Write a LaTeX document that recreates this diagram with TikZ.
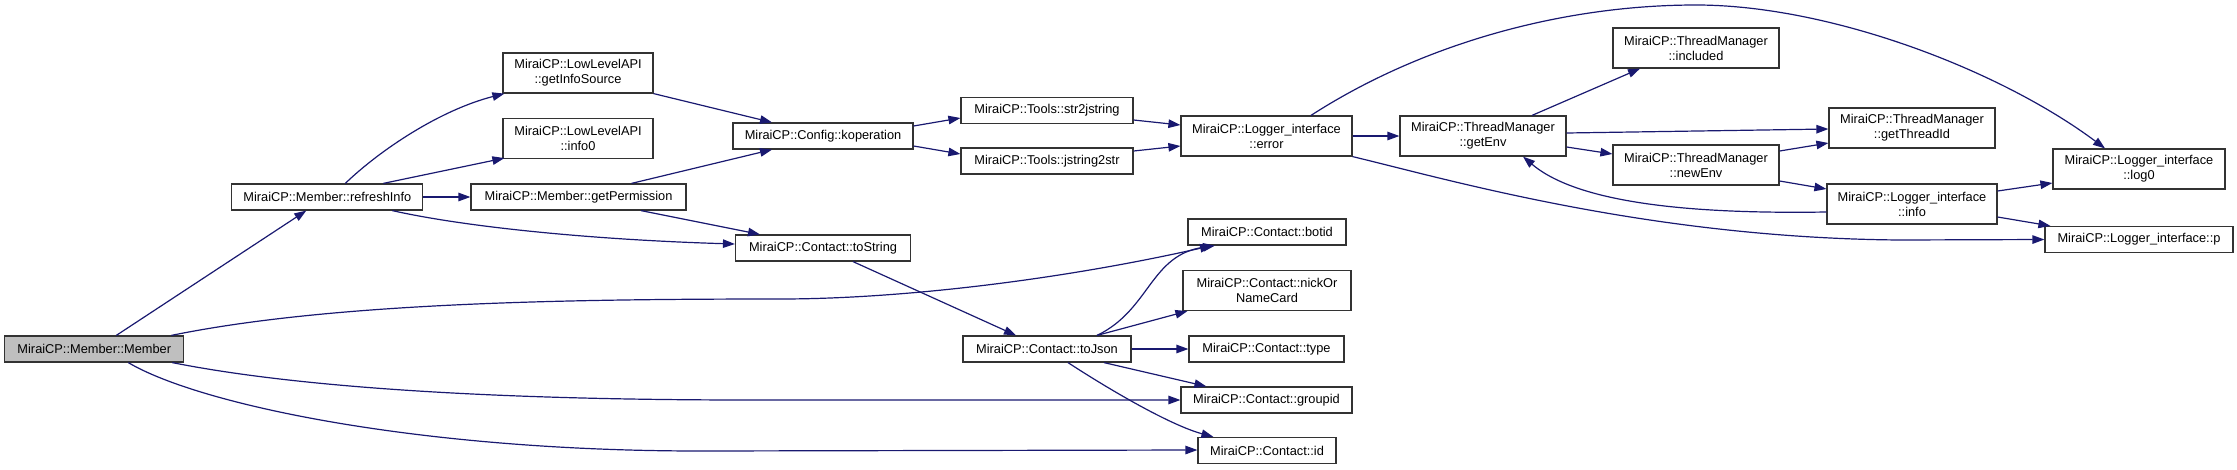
\documentclass[tikz,border=0pt]{standalone}
\usepackage{fontspec}
\setmainfont{Liberation Sans}
\usetikzlibrary{arrows.meta}
\definecolor{edgec}{HTML}{191970}
\definecolor{rootfill}{HTML}{BFBFBF}
\tikzset{
  fn/.style={draw=black!80, line width=1.2pt, fill=white, inner sep=0pt, align=center,
    font=\fontsize{12.8}{15}\selectfont, minimum height=26pt},
  fn2/.style={fn, minimum height=40pt},
  call/.style={draw=edgec, line width=1.2pt, -{Triangle[length=12pt,width=8.5pt]}},
}
\begin{document}
\begin{tikzpicture}[x=1pt,y=-1pt]
\useasboundingbox (0,0) rectangle (2237,469);
% nodes
\node[fn, fill=rootfill, minimum width=179pt] (member) at (94.3,349) {MiraiCP::Member::Member};
\node[fn, minimum width=191pt] (refresh) at (327.3,197) {MiraiCP::Member::refreshInfo};
\node[fn2, minimum width=150pt] (getinfo) at (578,73) {MiraiCP::LowLevelAPI\\::getInfoSource};
\node[fn2, minimum width=150pt] (info0) at (578,138.5) {MiraiCP::LowLevelAPI\\::info0};
\node[fn, minimum width=215pt] (getperm) at (578.5,197) {MiraiCP::Member::getPermission};
\node[fn, minimum width=180pt] (kop) at (823,136) {MiraiCP::Config::koperation};
\node[fn, minimum width=175pt] (tostr) at (823,248) {MiraiCP::Contact::toString};
\node[fn, minimum width=172pt] (str2) at (1047,110.5) {MiraiCP::Tools::str2jstring};
\node[fn, minimum width=172pt] (jstr) at (1047,161) {MiraiCP::Tools::jstring2str};
\node[fn, minimum width=168pt] (tojson) at (1047,349) {MiraiCP::Contact::toJson};
\node[fn2, minimum width=171pt] (error) at (1266.5,136) {MiraiCP::Logger\_interface\\::error};
\node[fn, minimum width=158pt] (botid) at (1267,232) {MiraiCP::Contact::botid};
\node[fn2, minimum width=168pt] (nick) at (1267,290.5) {MiraiCP::Contact::nickOr\\NameCard};
\node[fn, minimum width=155pt] (type) at (1266.5,349) {MiraiCP::Contact::type};
\node[fn, minimum width=171pt] (groupid) at (1266.5,400) {MiraiCP::Contact::groupid};
\node[fn, minimum width=138pt] (id) at (1267,450.5) {MiraiCP::Contact::id};
\node[fn2, minimum width=166pt] (getenv) at (1483,136) {MiraiCP::ThreadManager\\::getEnv};
\node[fn2, minimum width=166pt] (included) at (1696,48) {MiraiCP::ThreadManager\\::included};
\node[fn2, minimum width=166pt] (getthread) at (1912,128) {MiraiCP::ThreadManager\\::getThreadId};
\node[fn2, minimum width=166pt] (newenv) at (1696,165) {MiraiCP::ThreadManager\\::newEnv};
\node[fn2, minimum width=170pt] (info) at (1912,204) {MiraiCP::Logger\_interface\\::info};
\node[fn2, minimum width=172pt] (log0) at (2139,169) {MiraiCP::Logger\_interface\\::log0};
\node[fn, minimum width=188pt] (p) at (2139,239.5) {MiraiCP::Logger\_interface::p};
% edges from Member
\draw[call] ([xshift=22pt]member.north) -- ([xshift=-21pt]refresh.south);
\draw[call] ([xshift=77pt]member.north) .. controls (330,303) and (560,299) .. (780,299)
   .. controls (900,299) and (1060,280) .. ([xshift=-55pt]botid.south);
\draw[call] ([xshift=78pt]member.south) .. controls (300,388) and (500,400) .. (750,400) -- (groupid.west);
\draw[call] ([xshift=34pt]member.south) .. controls (200,405) and (420,451) .. (700,451) -- ([yshift=0.5pt]id.west);
% refreshInfo
\draw[call] ([xshift=18pt]refresh.north) .. controls (380,150) and (440,110) .. ([xshift=2pt]getinfo.south west);
\draw[call] ([xshift=56pt]refresh.north) -- ([xshift=2pt,yshift=1pt]info0.south west);
\draw[call] (refresh.east) -- (getperm.west);
\draw[call] ([xshift=65pt]refresh.south) .. controls (470,228) and (600,240) .. ([yshift=4pt]tostr.west);
% getInfoSource / getPermission
\draw[call] (getinfo.south east) -- ([xshift=-51pt]kop.north);
\draw[call] ([xshift=53pt]getperm.north) -- ([xshift=-51pt]kop.south);
\draw[call] ([xshift=62.5pt]getperm.south) -- ([xshift=-63pt]tostr.north);
% koperation
\draw[call] ([yshift=10pt]kop.east) -- ([yshift=-7.5pt]str2.west);
\draw[call] ([yshift=-10pt]kop.east) -- ([yshift=7pt]jstr.west);
\draw[call] ([yshift=-9.5pt]str2.east) -- ([yshift=11pt]error.west);
\draw[call] ([yshift=10pt]jstr.east) -- ([yshift=-10pt]error.west);
% error
\draw[call] (error.east) -- (getenv.west);
\draw[call] ([xshift=44.5pt]error.north) .. controls (1420,45) and (1560,5) .. (1696,5)
   .. controls (1830,5) and (2000,70) .. ([xshift=-34pt]log0.north);
\draw[call] (error.south east) .. controls (1450,180) and (1650,238) .. (1900,240) -- (p.west);
% getEnv
\draw[call] ([xshift=49pt]getenv.north) -- ([xshift=-56pt]included.south);
\draw[call] ([yshift=3pt]getenv.east) -- ([yshift=-1pt]getthread.west);
\draw[call] ([yshift=-11pt]getenv.east) -- ([yshift=11pt]newenv.west);
% newEnv
\draw[call] ([yshift=14pt]newenv.east) -- ([yshift=-15pt]getthread.west);
\draw[call] ([yshift=-16pt]newenv.east) -- ([yshift=15pt]info.west);
% info
\draw[call] ([yshift=-8pt]info.west) .. controls (1700,214) and (1580,205) .. ([xshift=40pt]getenv.south);
\draw[call] ([yshift=13pt]info.east) -- ([yshift=-14pt]log0.west);
\draw[call] ([yshift=-13pt]info.east) -- ([xshift=6pt]p.north west);
% toString / toJson
\draw[call] ([xshift=30pt]tostr.south) -- ([xshift=-31pt]tojson.north);
\draw[call] ([xshift=50pt]tojson.north) .. controls (1150,310) and (1150,255) .. ([xshift=-52pt]botid.south);
\draw[call] ([xshift=50pt]tojson.north) -- ([xshift=5pt]nick.south west);
\draw[call] (tojson.east) -- (type.west);
\draw[call] ([xshift=57pt]tojson.south) -- ([xshift=26pt]groupid.north west);
\draw[call] ([xshift=21pt]tojson.south) .. controls (1110,390) and (1170,425) .. ([xshift=16pt]id.north west);
\end{tikzpicture}
\end{document}
